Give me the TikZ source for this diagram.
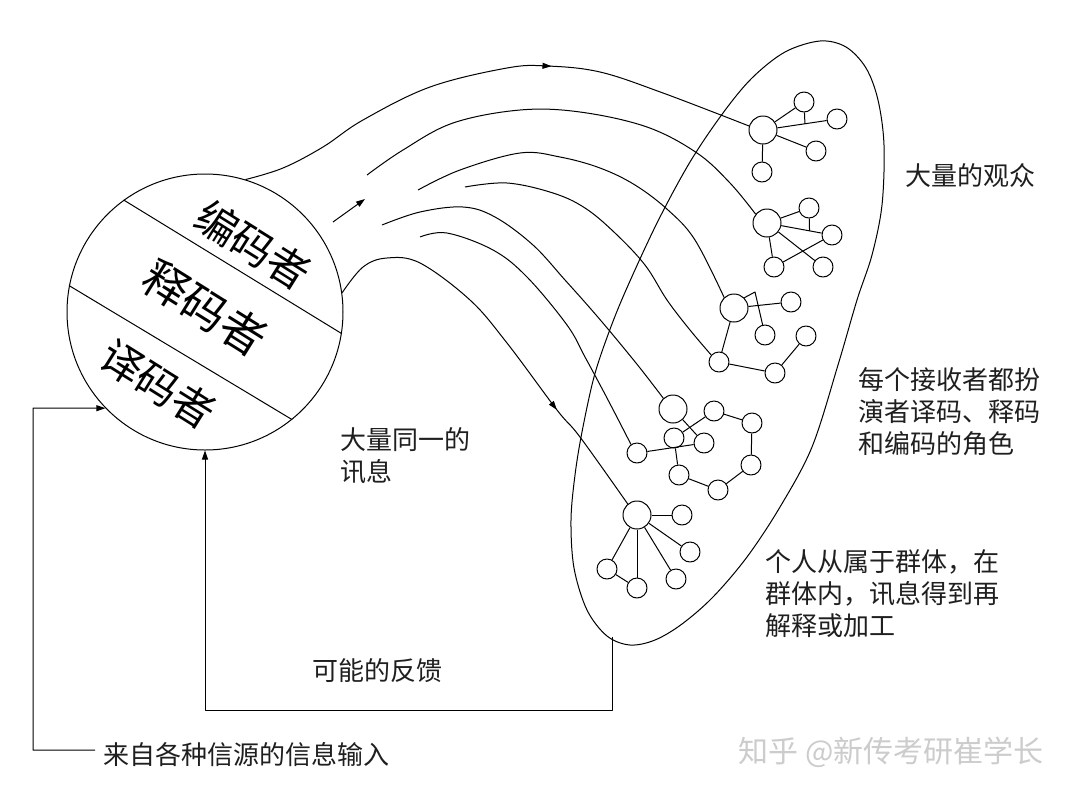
\documentclass[tikz,border=0pt]{standalone}
\usepackage{fontspec}
\newfontfamily\cjk{Noto Sans CJK SC}
\usetikzlibrary{arrows.meta,decorations.markings}
\begin{document}
\begin{tikzpicture}[x=1pt,y=-1pt,line width=1pt,line join=round,
  lbl/.style={font=\cjk\fontsize{26}{32}\selectfont,inner sep=0pt,align=left,text=black!88},
  ctext/.style={font=\cjk\fontsize{#1}{#1}\selectfont,inner sep=0pt,rotate=-32},
  hubn/.style={circle,draw,minimum size=28pt,inner sep=0pt},
  leaf/.style={circle,draw,minimum size=20pt,inner sep=0pt},
  tip/.style={-{Triangle[length=9pt,width=6pt]}},
  midarr/.style={postaction={decorate},decoration={markings,mark=at position #1 with {\arrow{Triangle[length=9pt,width=6pt]}}}}]
\path[use as bounding box,fill=white] (0,0) rectangle (1080,796);

% audience outline
\draw plot[smooth cycle,tension=0.55] coordinates {(820,41) (846,47) (866,68) (878,100) (884,145) (882,205) (872,255) (857,300) (838,365) (812,447) (780,507) (747,557) (713,597) (682,624) (655,640) (630,645) (607,636) (587,610) (574,568) (571,520) (575,475) (582,432) (594,377) (609,332) (626,290) (657,223) (690,162) (723,113) (752,78) (785,52)};

% source circle
\node[circle,draw,minimum size=276pt,inner sep=0pt] (enc) at (205,312) {};
\draw (enc.126) -- (enc.-9);
\draw (enc.169) -- (enc.-51);
\node[ctext=42] (t1) at (253,245) {编码者};
\node[ctext=45] (t2) at (205,308) {释码者};
\node[ctext=42] (t3) at (158,384) {译码者};

% cluster 1
\node[hubn] (c1h) at (763,130) {};
\node[leaf] (c1a) at (804,102) {};
\node[leaf] (c1b) at (837,119) {};
\node[leaf] (c1c) at (816,151) {};
\node[leaf] (c1d) at (762,172) {};
\draw (c1h) -- (c1a);
\draw (c1h) -- coordinate[pos=0.56] (c1x) (c1b);
\draw (c1a) -- (c1x);
\draw (c1h) -- (c1c);
\draw (c1h) -- (c1d);

% cluster 2
\node[hubn] (c2h) at (767,223) {};
\node[leaf] (c2a) at (809,208) {};
\node[leaf] (c2b) at (832,235) {};
\node[leaf] (c2c) at (774,267) {};
\node[leaf] (c2d) at (823,267) {};
\draw (c2h) -- (c2a);
\draw (c2h) -- coordinate[pos=0.7] (c2x) (c2b);
\draw (c2a) -- (c2x);
\draw (c2h) -- (c2d);
\draw (c2h) -- (c2c);
\draw (c2c) -- (c2b);

% cluster 3
\node[hubn] (c3h) at (734,308) {};
\node[leaf] (c3a) at (791,302) {};
\node[leaf] (c3b) at (765,335) {};
\node[leaf] (c3c) at (806,336) {};
\node[leaf] (c3d) at (719,362) {};
\node[leaf] (c3e) at (775,373) {};
\coordinate (c3pk) at (755,292);
\draw (c3h) -- (c3a);
\draw (c3h.45) -- (c3pk) -- (c3b);
\draw (c3h) -- (c3d);
\draw (c3d) -- (c3e);
\draw (c3e) -- (c3c);

% cluster 4
\node[hubn] (c4h) at (673,409) {};
\node[leaf] (c4a) at (714,411) {};
\node[leaf] (c4b) at (752,423) {};
\node[leaf] (c4c) at (674,438) {};
\node[leaf] (c4d) at (704,443) {};
\node[leaf] (c4e) at (637,453) {};
\node[leaf] (c4f) at (751,465) {};
\node[leaf] (c4g) at (679,475) {};
\node[leaf] (c4k) at (718,490) {};
\draw (c4h) -- (c4d);
\draw (c4c) -- (c4a);
\draw (c4a) -- (c4b);
\draw (c4b) -- (c4f);
\draw (c4f) -- (c4k);
\draw (c4k) -- (c4g);
\draw (c4g) -- (c4c);
\draw (c4e) -- (c4d);

% cluster 5
\node[hubn] (c5h) at (637,515) {};
\node[leaf] (c5a) at (682,515) {};
\node[leaf] (c5b) at (690,552) {};
\node[leaf] (c5c) at (676,579) {};
\node[leaf] (c5d) at (607,569) {};
\node[leaf] (c5e) at (637,588) {};
\draw (c5h) -- (c5a);
\draw (c5h) -- (c5b);
\draw (c5h) -- (c5c);
\draw (c5h) -- (c5e);
\draw (c5h) -- (c5d);
\draw (c5d) -- (c5e);

% message flows
\coordinate (s2) at (367,175);
\coordinate (s3) at (418,190);
\coordinate (s4) at (465,187);
\coordinate (s5) at (382,225);
\coordinate (s6) at (420,237);
\coordinate (sa1) at (333,222);
\coordinate (sa2) at (365,199);
\draw[midarr=0.615] plot[smooth,tension=0.6] coordinates {(enc.73) (283,168) (323,147) (363,120) (430,87) (507,68) (547,66) (600,72) (663,93) (c1h.164)};
\draw plot[smooth,tension=0.6] coordinates {(s2) (403,150) (453,123) (520,110) (580,112) (647,127) (697,153) (730,183) (c2h.142)};
\draw plot[smooth,tension=0.6] coordinates {(s3) (460,170) (520,153) (560,157) (600,168) (635,185) (668,210) (695,240) (c3h.133)};
\draw plot[smooth,tension=0.6] coordinates {(s4) (507,183) (553,193) (585,208) (615,233) (645,265) (667,300) (690,330) (c3d.138)};
\draw plot[smooth,tension=0.6] coordinates {(s5) (420,212) (463,207) (495,217) (533,245) (565,280) (590,308) (613,335) (640,368) (c4h.132)};
\draw plot[smooth,tension=0.6] coordinates {(s6) (447,233) (493,250) (527,277) (567,325) (585,357) (607,398) (c4e.125)};
\draw[midarr=0.715] plot[smooth,tension=0.6] coordinates {(enc.8) (363,267) (387,258) (420,263) (470,300) (507,343) (557,410) (580,437) (c5h.130)};
\draw[tip] (sa1) -- (sa2);

% feedback and input
\coordinate (fbR) at (612,637);
\coordinate (fbRB) at (612,710);
\coordinate (fbLB) at (205,710);
\draw[tip] (fbR) -- (fbRB) -- (fbLB) -- (enc.south);
\coordinate (inA) at (95,750);
\coordinate (inB) at (33,750);
\coordinate (inC) at (33,408);
\draw[tip] (inA) -- (inB) -- (inC) -- (enc.224);

% labels
\node[lbl,anchor=west] (aud) at (905,176) {大量的观众};
\node[lbl,anchor=west] (role) at (858,412) {每个接收者都扮\\演者译码、释码\\和编码的角色};
\node[lbl,anchor=west] (grp) at (765,594) {个人从属于群体，在\\群体内，讯息得到再\\解释或加工};
\node[lbl,anchor=west] (msg) at (340,456) {大量同一的\\讯息};
\node[lbl,anchor=west] (fbt) at (312,671) {可能的反馈};
\node[lbl,anchor=west] (src) at (103,755) {来自各种信源的信息输入};
\node[font=\cjk\fontsize{30}{30}\selectfont,text=black!20,inner sep=0pt] (wm) at (891,752) {知乎 @新传考研崔学长};
\end{tikzpicture}
\end{document}
